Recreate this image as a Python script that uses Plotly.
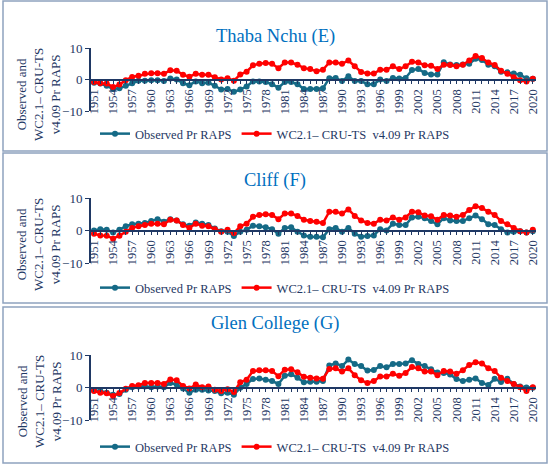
import plotly.graph_objects as go

years = list(range(1951, 2021))

obs_e = [-1.0, -1.3, -2.0, -3.0, -2.8, -2.0, -1.2, -0.4, -0.4, -0.2,
         -0.2, -0.5, 0.3, 0.0, -1.2, -1.8, -0.6, -1.2, -1.0, -2.0,
         -3.2, -3.0, -3.9, -3.2, -2.2, -0.6, -0.6, -0.8, -1.5, -2.6,
         -0.8, -0.8, -1.5, -3.0, -3.0, -3.0, -2.8, 0.4, 0.5, -0.5,
         1.0, -0.5, -0.5, -1.5, -1.5, 0.0, -0.5, 0.5, 0.3, 0.5,
         3.0, 3.3, 2.1, 1.6, 1.6, 5.5, 4.8, 4.6, 4.8, 5.0,
         6.6, 6.2, 4.7, 4.2, 2.5, 2.3, 1.9, 1.5, 0.4, 0.2]
wc_e = [-0.8, -1.2, -1.3, -2.4, -1.6, -0.2, 0.8, 1.2, 1.8, 2.0,
        2.0, 1.8, 2.9, 2.8, 1.5, 0.9, 1.8, 1.5, 1.5, 0.7,
        0.0, 0.4, -0.4, 1.6, 2.5, 4.5, 5.0, 5.2, 5.0, 3.6,
        5.4, 5.4, 4.7, 3.6, 3.3, 2.6, 3.1, 5.4, 5.4, 5.0,
        6.0, 4.2, 2.4, 1.9, 1.9, 3.1, 3.1, 4.2, 3.3, 4.2,
        5.6, 5.4, 4.5, 4.4, 3.3, 4.7, 4.6, 4.2, 4.7, 6.0,
        7.5, 6.8, 5.4, 4.6, 2.8, 1.8, 0.7, -0.2, -0.6, 0.2]

obs_f = [0.0, 0.4, 0.2, -0.6, 0.2, 1.3, 1.9, 2.1, 2.3, 2.9,
         3.5, 2.7, 3.5, 3.1, 1.9, 1.5, 2.5, 2.1, 1.7, 0.6,
         -0.2, -0.4, -1.7, -0.4, 0.2, 1.5, 1.3, 1.0, 0.4, -1.0,
         0.8, 1.0, -0.4, -1.5, -1.9, -1.9, -2.1, 0.4, 0.8, -0.4,
         0.8, -1.0, -1.9, -1.7, -1.5, 0.4, 0.0, 2.1, 1.7, 1.7,
         4.0, 4.2, 3.8, 2.9, 1.9, 3.8, 3.1, 2.9, 2.9, 3.8,
         4.6, 3.5, 1.9, 1.7, 0.4, -0.6, -0.4, -0.2, -0.6, -0.2]
wc_f = [-1.0, -1.5, -1.6, -2.5, -1.6, -0.4, 0.8, 1.3, 1.7, 2.1,
        2.1, 1.9, 3.3, 3.1, 1.7, 0.8, 2.1, 1.5, 1.3, 0.4,
        -0.4, 0.2, -0.8, 1.3, 2.1, 4.2, 4.8, 5.0, 4.8, 3.5,
        5.2, 5.2, 4.5, 3.3, 2.9, 2.7, 2.3, 5.8, 5.8, 5.2,
        6.5, 4.5, 3.1, 2.3, 2.1, 3.3, 3.1, 4.0, 3.3, 4.0,
        5.8, 5.6, 4.6, 4.4, 3.3, 4.8, 4.6, 4.2, 4.8, 6.3,
        7.5, 6.9, 5.8, 4.8, 2.9, 1.9, 0.8, -0.2, -0.6, 0.2]

obs_g = [-0.9, -1.1, -1.6, -2.2, -2.0, -0.7, 0.1, 0.3, 0.3, 0.1,
         0.3, 0.1, 1.4, 0.9, -0.3, -1.6, -0.7, -0.7, -0.9, -1.1,
         -1.8, -1.6, -2.2, -0.1, 1.1, 2.6, 2.8, 2.4, 2.0, 1.1,
         3.6, 4.1, 3.0, 1.6, 1.8, 1.8, 2.0, 6.8, 7.4, 6.6,
         8.6, 7.2, 6.6, 5.2, 5.4, 6.6, 6.2, 7.2, 7.2, 7.4,
         8.4, 7.2, 6.6, 5.6, 4.6, 4.5, 4.0, 2.6, 2.0, 2.4,
         2.8, 1.4, 0.8, 2.7, 1.7, 2.7, 1.1, 0.3, 0.0, -0.1]
wc_g = [-1.1, -1.6, -1.8, -2.6, -1.7, -0.4, 0.5, 0.7, 1.4, 1.4,
        1.4, 1.1, 2.5, 2.2, 0.5, -0.3, 0.9, 0.1, 0.3, -0.7,
        -1.1, -0.5, -1.4, 1.6, 2.4, 5.1, 5.3, 5.3, 5.1, 3.5,
        5.5, 5.6, 4.7, 3.3, 3.0, 2.8, 2.7, 5.7, 5.9, 4.9,
        5.9, 3.8, 2.2, 1.4, 2.0, 3.4, 3.4, 4.2, 3.6, 4.5,
        6.3, 5.9, 4.9, 4.9, 3.8, 5.1, 4.9, 4.2, 5.3, 6.9,
        7.8, 7.4, 5.9, 5.1, 3.0, 2.0, 1.1, 0.1, -1.1, 0.1]

titles = ["Thaba Nchu (E)", "Cliff (F)", "Glen College (G)"]
obs_name = "Observed Pr RAPS"
wc_name = "WC2.1\u2013 CRU-TS \u00a0v4.09 Pr RAPS"

W, H = 550, 467
teal = "#156A86"
red = "#FF0000"
navy = "#1F3864"
font = "Liberation Serif"

# pixel layout of each panel: (top border, bottom border, y=10, y=-10, title y, legend y)
panels = [(1, 151, 48, 111, 24, 134),
          (153, 303, 198, 263, 180, 288),
          (307, 463, 355, 420, 336, 447)]
series = [(obs_e, wc_e), (obs_f, wc_f), (obs_g, wc_g)]

fig = go.Figure()
layout = {}
annotations = []
shapes = []
for i, ((obs, wc), (top, bot, y10, ym10, ty, ly)) in enumerate(zip(series, panels)):
    n = "" if i == 0 else str(i + 1)
    leg = "legend" + n
    fig.add_trace(go.Scatter(x=years, y=obs, name=obs_name, mode="lines+markers",
                             line=dict(color=teal, width=2.5), marker=dict(size=6, color=teal),
                             xaxis="x" + n, yaxis="y" + n, legend=leg))
    fig.add_trace(go.Scatter(x=years, y=wc, name=wc_name, mode="lines+markers",
                             line=dict(color=red, width=2.5), marker=dict(size=6, color=red),
                             xaxis="x" + n, yaxis="y" + n, legend=leg))
    d0 = 1 - ym10 / H
    d1 = 1 - y10 / H
    layout["yaxis" + n] = dict(domain=[d0, d1], range=[-10, 10], tickvals=[-10, 0, 10],
                               ticks="outside", ticklen=4, tickcolor=navy, showline=True,
                               linecolor=navy, linewidth=1.5, showgrid=False, zeroline=False,
                               anchor="x" + n, automargin=False,
                               tickfont=dict(family=font, size=13, color=navy))
    layout["xaxis" + n] = dict(domain=[90.8 / W, 536 / W], range=[1950.5, 2020.5],
                               tick0=1951, dtick=3, tickangle=-90, ticks="outside", ticklen=4,
                               tickcolor=navy, showline=True, linecolor=navy, linewidth=1.5,
                               showgrid=False, zeroline=False, anchor="free",
                               position=(d0 + d1) / 2, automargin=False,
                               minor=dict(dtick=1, ticks="outside", ticklen=4, tickcolor=navy),
                               tickfont=dict(family=font, size=12.5, color=navy))
    layout[leg] = dict(orientation="h", x=0.5, xanchor="center", y=1 - ly / H,
                       yanchor="middle", bgcolor="rgba(0,0,0,0)", itemwidth=30,
                       font=dict(family=font, size=12.5, color=navy))
    annotations.append(dict(text=titles[i], x=0.5, y=1 - ty / H, xref="paper", yref="paper",
                            showarrow=False, font=dict(family=font, size=18.5, color="#0070C0")))
    annotations.append(dict(text="Observed and<br>WC2.1\u2013 CRU-TS<br>v4.09 Pr RAPS",
                            textangle=-90, x=39 / W, y=1 - (y10 + 47) / H,
                            xanchor="center", yanchor="middle",
                            xref="paper", yref="paper", showarrow=False,
                            font=dict(family=font, size=13, color=navy)))
    shapes.append(dict(type="rect", xref="paper", yref="paper", x0=3 / W, x1=547 / W,
                       y0=1 - bot / H, y1=1 - top / H, line=dict(color="#8EA2BF", width=1.5)))

fig.update_layout(**layout)
fig.update_layout(width=W, height=H, margin=dict(l=0, r=0, t=0, b=0, autoexpand=False),
                  plot_bgcolor="white", paper_bgcolor="white",
                  annotations=annotations, shapes=shapes)
fig.write_html("out.html", config={"displayModeBar": False},
               post_script="document.body.style.margin = '0';")
